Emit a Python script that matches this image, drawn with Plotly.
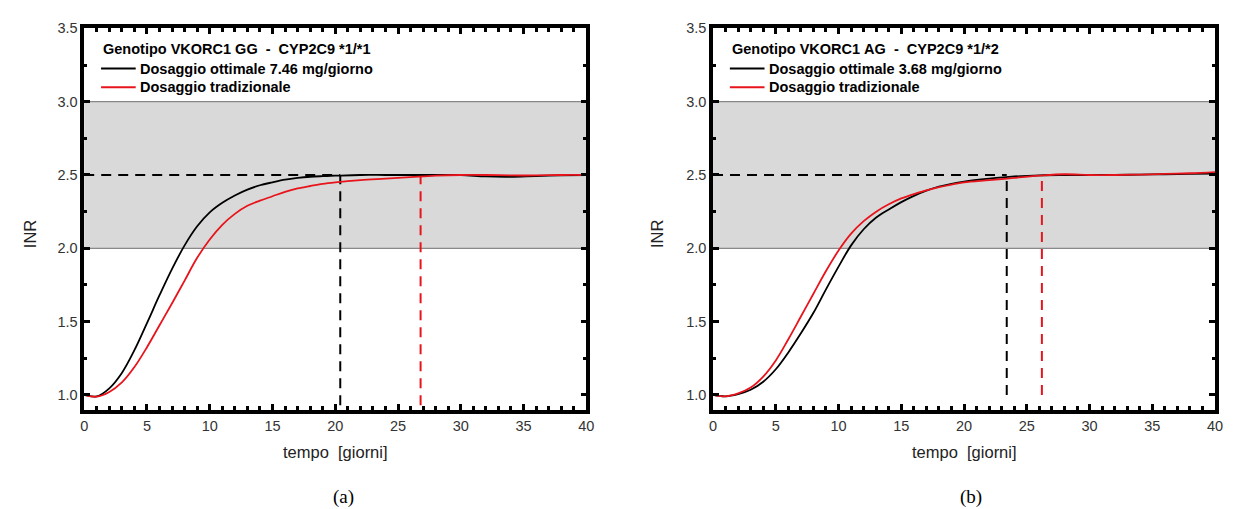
import numpy as np
import plotly.graph_objects as go

# ---- data -----------------------------------------------------------------
giorni = [0, 1, 2, 3, 4, 5, 6, 7, 8, 9, 10, 11, 12, 13, 14, 15, 16, 17, 18,
          19, 20, 22, 24, 26, 28, 30, 32, 34, 36, 38, 40]

# (a) VKORC1 GG - CYP2C9 *1/*1
inr_a_ottimale = [1.00, 0.99, 1.045, 1.15, 1.305, 1.49, 1.68, 1.86, 2.02, 2.15,
                  2.245, 2.31, 2.36, 2.40, 2.43, 2.45, 2.468, 2.48, 2.488, 2.492,
                  2.495, 2.50, 2.50, 2.50, 2.50, 2.50, 2.49, 2.488, 2.493, 2.497,
                  2.50]
inr_a_tradizionale = [1.00, 0.988, 1.02, 1.085, 1.19, 1.325, 1.475, 1.625, 1.78,
                      1.935, 2.06, 2.16, 2.235, 2.29, 2.325, 2.355, 2.385, 2.408,
                      2.425, 2.44, 2.45, 2.465, 2.475, 2.485, 2.495, 2.50, 2.50,
                      2.497, 2.497, 2.50, 2.50]

# (b) VKORC1 AG - CYP2C9 *1/*2
inr_b_ottimale = [1.00, 0.99, 1.005, 1.035, 1.09, 1.175, 1.29, 1.42, 1.56, 1.72,
                  1.875, 2.02, 2.13, 2.21, 2.265, 2.315, 2.358, 2.393, 2.42,
                  2.44, 2.455, 2.475, 2.49, 2.498, 2.50, 2.50, 2.50, 2.503,
                  2.505, 2.508, 2.51]
inr_b_tradizionale = [1.00, 0.99, 1.01, 1.05, 1.125, 1.235, 1.38, 1.535, 1.69,
                      1.845, 1.985, 2.10, 2.185, 2.25, 2.30, 2.34, 2.37, 2.395,
                      2.417, 2.435, 2.45, 2.465, 2.48, 2.495, 2.505, 2.50, 2.50,
                      2.503, 2.507, 2.512, 2.52]

inr_target = 2.5
range_terapeutico = [2.0, 3.0]
# days needed to reach the target INR: [ottimale, tradizionale]
t_target_a = [20.4, 26.8]
t_target_b = [23.4, 26.2]

dose_a = "7.46"
dose_b = "3.68"
titolo_a = "Genotipo VKORC1 GG  -  CYP2C9 *1/*1"
titolo_b = "Genotipo VKORC1 AG  -  CYP2C9 *1/*2"
x_ticks = [0, 5, 10, 15, 20, 25, 30, 35, 40]
y_ticks = [1.0, 1.5, 2.0, 2.5, 3.0, 3.5]

# ---- style ----------------------------------------------------------------
W, H = 1233, 509
NERO = "#000000"
ROSSO = "#e8141c"
SANS = "Liberation Sans, Arial, sans-serif"
SERIF = "Liberation Serif, Times New Roman, serif"
DASH = "10px,7px"
NBSP = "\u00a0"

x_dom_a = [81 / W, 588 / W]
x_dom_b = [716 / W, 1223 / W]
y_dom = [1 - 408 / H, 1 - 20.7 / H]

fig = go.Figure()


def pannello(k, t, ott, trad, t_tgt, dose, titolo, y_bottom, x_left_px):
    xa, ya = ("x", "y") if k == 1 else ("x2", "y2")
    # target lines
    fig.add_trace(go.Scatter(x=[0, t_tgt[0]], y=[inr_target, inr_target],
                             mode="lines", xaxis=xa, yaxis=ya,
                             line=dict(color=NERO, width=2, dash=DASH),
                             showlegend=False, hoverinfo="skip"))
    fig.add_trace(go.Scatter(x=[t_tgt[0], t_tgt[0]], y=[y_bottom, inr_target],
                             mode="lines", xaxis=xa, yaxis=ya,
                             line=dict(color=NERO, width=2, dash=DASH),
                             showlegend=False, hoverinfo="skip"))
    y_red = float(np.interp(t_tgt[1], t, trad))
    fig.add_trace(go.Scatter(x=[t_tgt[1], t_tgt[1]], y=[y_bottom, y_red],
                             mode="lines", xaxis=xa, yaxis=ya,
                             line=dict(color=ROSSO, width=2, dash=DASH),
                             showlegend=False, hoverinfo="skip"))
    # INR curves
    nomi = [f"Dosaggio ottimale {dose} mg/giorno", "Dosaggio tradizionale"]
    for serie, colore, nome in [(ott, NERO, nomi[0]), (trad, ROSSO, nomi[1])]:
        fig.add_trace(go.Scatter(x=t, y=serie, mode="lines", xaxis=xa,
                                 yaxis=ya, name=nome, showlegend=False,
                                 line=dict(color=colore, width=1.8,
                                           shape="spline", smoothing=1.0)))
    # therapeutic range band
    xd = "x domain" if k == 1 else "x2 domain"
    fig.add_shape(type="rect", xref=xd, yref=ya, x0=0, x1=1,
                  y0=range_terapeutico[0], y1=range_terapeutico[1],
                  fillcolor="#d9d9d9", line=dict(width=0), layer="below")
    for yv in range_terapeutico:
        fig.add_shape(type="line", xref=xd, yref=ya, x0=0, x1=1, y0=yv, y1=yv,
                      line=dict(color="#6e6e6e", width=1), layer="below")

    # key: genotype heading, then one row per curve
    leg_font = dict(family=SANS, size=14.5, color=NERO, weight="bold")
    x0 = x_left_px + 17
    fig.add_annotation(x=x0 / W, y=1 - 42 / H, xref="paper", yref="paper",
                       text=titolo.replace(" ", NBSP), showarrow=False,
                       font=leg_font, xanchor="left", yanchor="middle")
    for row_y, colore, nome in [(61.5, NERO, nomi[0]), (80.5, ROSSO, nomi[1])]:
        fig.add_shape(type="line", xref="paper", yref="paper",
                      x0=x0 / W, x1=(x0 + 35) / W,
                      y0=1 - row_y / H, y1=1 - row_y / H,
                      line=dict(color=colore, width=2))
        fig.add_annotation(x=(x0 + 37) / W, y=1 - row_y / H, xref="paper",
                           yref="paper", text=nome, showarrow=False,
                           font=leg_font, xanchor="left", yanchor="middle")


pannello(1, giorni, inr_a_ottimale, inr_a_tradizionale, t_target_a, dose_a,
         titolo_a, 0.93, 81)
pannello(2, giorni, inr_b_ottimale, inr_b_tradizionale, t_target_b, dose_b,
         titolo_b, 1.0, 716)

tick_font = dict(family=SANS, size=14.5, color="#333333")


def xaxis(dom, anchor):
    return dict(domain=dom, anchor=anchor, range=[0, 40], tickvals=x_ticks,
                ticks="inside", ticklen=6, tickwidth=3, tickcolor=NERO,
                minor=dict(ticks="inside", dtick=1, tick0=0, ticklen=3.5,
                           tickwidth=3, tickcolor=NERO),
                showline=True, linewidth=3.5, linecolor=NERO, mirror="ticks",
                showgrid=False, zeroline=False, tickfont=tick_font)


def yaxis(anchor):
    return dict(domain=y_dom, anchor=anchor, range=[0.9, 3.5],
                tickvals=y_ticks, tickformat=".1f",
                ticks="inside", ticklen=6, tickwidth=3, tickcolor=NERO,
                minor=dict(ticks="inside", dtick=0.25, tick0=1.0, ticklen=3.5,
                           tickwidth=3, tickcolor=NERO),
                showline=True, linewidth=3.5, linecolor=NERO, mirror="ticks",
                showgrid=False, zeroline=False, tickfont=tick_font)


fig.update_layout(
    width=W, height=H, margin=dict(l=0, r=0, t=0, b=0),
    paper_bgcolor="white", plot_bgcolor="white", showlegend=False,
    xaxis=xaxis(x_dom_a, "y"), yaxis=yaxis("x"),
    xaxis2=xaxis(x_dom_b, "y2"), yaxis2=yaxis("x2"),
)

# axis titles and panel captions
title_font = dict(family=SANS, size=16.5, color="#222222")
for xc, lab in [(27, "INR"), (660, "INR")]:
    fig.add_annotation(x=xc / W, y=1 - 229 / H, xref="paper", yref="paper",
                       text=lab, textangle=-90, showarrow=False,
                       font=title_font, xanchor="center", yanchor="middle")
for xc in [334.5, 969.5]:
    fig.add_annotation(x=xc / W, y=1 - 451 / H, xref="paper", yref="paper",
                       text=f"tempo{NBSP}{NBSP}[giorni]", showarrow=False,
                       font=title_font, xanchor="center", yanchor="middle")
for xc, lab in [(343, "(a)"), (977, "(b)")]:
    fig.add_annotation(x=xc / W, y=1 - 497 / H, xref="paper", yref="paper",
                       text=lab, showarrow=False,
                       font=dict(family=SERIF, size=19, color=NERO),
                       xanchor="center", yanchor="middle")

fig.write_html("out.html")
